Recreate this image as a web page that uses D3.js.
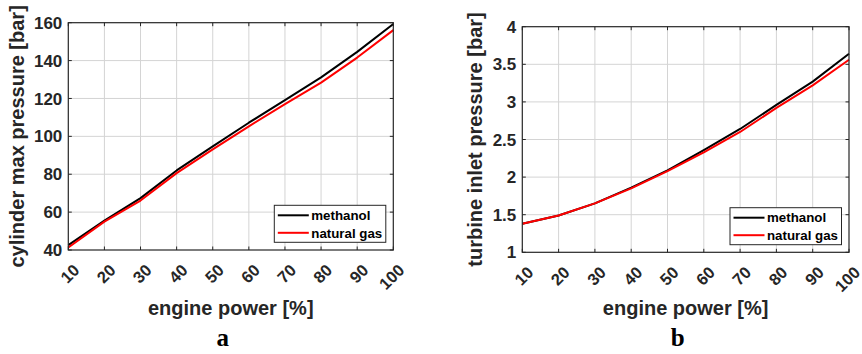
<!DOCTYPE html>
<html>
<head>
<meta charset="utf-8">
<script src="https://cdn.jsdelivr.net/npm/d3@7"></script>
<style>
  body { margin: 0; background: #fff; }
  svg { display: block; }
  text { font-family: "Liberation Sans", Arial, sans-serif; font-weight: bold; }
  text.letter { font-family: "Liberation Serif", "Times New Roman", serif; }
</style>
</head>
<body>
<svg id="chart" width="862" height="354"></svg>
<script>
// engine load points [%]
const enginePower = [10, 20, 30, 40, 50, 60, 70, 80, 90, 100];

// panel a: cylinder max pressure [bar]
const cylMethanol   = [42.6, 55.5, 67.4, 82.0, 94.7, 107.2, 119.1, 131.1, 144.6, 159.3];
const cylNaturalGas = [41.3, 55.0, 66.1, 80.6, 93.1, 105.3, 117.0, 128.4, 141.6, 156.1];
const cylTicks = [40, 60, 80, 100, 120, 140, 160];

// panel b: turbine inlet pressure [bar]
const tipMethanol   = [1.38, 1.49, 1.65, 1.86, 2.09, 2.36, 2.64, 2.96, 3.27, 3.64];
const tipNaturalGas = [1.38, 1.49, 1.65, 1.85, 2.08, 2.33, 2.60, 2.92, 3.22, 3.56];
const tipTicks = [1, 1.5, 2, 2.5, 3, 3.5, 4];

const seriesNames = ["methanol", "natural gas"];
const seriesColors = ["#000000", "#ff0000"];

const svg = d3.select("#chart");
const ink = "#262626";

function drawPanel(opts) {
    const { left, top, right, bottom } = opts;
    const x = d3.scaleLinear().domain([10, 100]).range([left, right]);
    const y = d3.scaleLinear().domain(opts.yDomain).range([bottom, top]);
    const g = svg.append("g");

    // grid
    g.append("g").selectAll("line.vg")
        .data(enginePower.slice(1, -1))
        .enter().append("line")
        .attr("x1", d => x(d)).attr("x2", d => x(d))
        .attr("y1", top).attr("y2", bottom)
        .attr("stroke", "#d4d4d4").attr("stroke-width", 1);
    g.append("g").selectAll("line.hg")
        .data(opts.yTicks.slice(1, -1))
        .enter().append("line")
        .attr("x1", left).attr("x2", right)
        .attr("y1", d => y(d)).attr("y2", d => y(d))
        .attr("stroke", "#d4d4d4").attr("stroke-width", 1);

    // tick marks pointing inward on all four sides
    const tl = 3.5;
    const tk = g.append("g").attr("stroke", ink).attr("stroke-width", 1);
    enginePower.forEach(v => {
        tk.append("line").attr("x1", x(v)).attr("x2", x(v)).attr("y1", bottom).attr("y2", bottom - tl);
        tk.append("line").attr("x1", x(v)).attr("x2", x(v)).attr("y1", top).attr("y2", top + tl);
    });
    opts.yTicks.forEach(v => {
        tk.append("line").attr("x1", left).attr("x2", left + tl).attr("y1", y(v)).attr("y2", y(v));
        tk.append("line").attr("x1", right).attr("x2", right - tl).attr("y1", y(v)).attr("y2", y(v));
    });

    // curves
    const line = d3.line().x((d, i) => x(enginePower[i])).y(d => y(d));
    opts.series.forEach((s, i) => {
        g.append("path")
            .datum(s)
            .attr("d", line)
            .attr("fill", "none")
            .attr("stroke", seriesColors[i])
            .attr("stroke-width", 2)
            .attr("stroke-linejoin", "round");
    });

    // box
    g.append("rect")
        .attr("x", left).attr("y", top)
        .attr("width", right - left).attr("height", bottom - top)
        .attr("fill", "none").attr("stroke", ink).attr("stroke-width", 1.2);

    // y tick labels
    g.append("g").selectAll("text")
        .data(opts.yTicks)
        .enter().append("text")
        .attr("x", left - 6)
        .attr("y", d => y(d))
        .attr("dy", "0.36em")
        .attr("text-anchor", "end")
        .attr("font-size", 17)
        .attr("fill", ink)
        .text(d => d);

    // x tick labels, rotated
    g.append("g").selectAll("text")
        .data(enginePower)
        .enter().append("text")
        .attr("transform", d => `translate(${x(d) + 8},${bottom + 17}) rotate(-45)`)
        .attr("dy", "0.36em")
        .attr("text-anchor", "end")
        .attr("font-size", 16.5)
        .attr("fill", ink)
        .text(d => d);

    // axis titles
    g.append("text")
        .attr("transform", `translate(${opts.yLabelX},${(top + bottom) / 2}) rotate(-90)`)
        .attr("text-anchor", "middle")
        .attr("dy", "0.26em")
        .attr("font-size", 20)
        .attr("fill", ink)
        .text(opts.yLabel);

    g.append("text")
        .attr("x", (left + right) / 2)
        .attr("y", 315)
        .attr("text-anchor", "middle")
        .attr("font-size", 20)
        .attr("fill", ink)
        .text("engine power [%]");

    // panel letter
    g.append("text")
        .attr("class", "letter")
        .attr("x", (left + right) / 2 - 8)
        .attr("y", 346)
        .attr("text-anchor", "middle")
        .attr("font-size", 25)
        .attr("fill", "#000")
        .text(opts.letter);

    // legend
    const lg = g.append("g").attr("transform", `translate(${right - 119},${opts.legendTop})`);
    lg.append("rect")
        .attr("width", 111.5).attr("height", 37)
        .attr("fill", "#fff").attr("stroke", ink).attr("stroke-width", 1);
    seriesNames.forEach((name, i) => {
        const yy = 10 + i * 17.5;
        lg.append("line")
            .attr("x1", 3.5).attr("x2", 34.5)
            .attr("y1", yy).attr("y2", yy)
            .attr("stroke", seriesColors[i]).attr("stroke-width", 2);
        lg.append("text")
            .attr("x", 37).attr("y", yy)
            .attr("dy", "0.36em")
            .attr("font-size", 13.3)
            .attr("fill", "#000")
            .text(name);
    });
}

drawPanel({
    left: 68.3, top: 22.7, right: 393.3, bottom: 250,
    yDomain: [40, 160], yTicks: cylTicks,
    series: [cylMethanol, cylNaturalGas],
    yLabel: "cylinder max pressure [bar]", yLabelX: 18.3,
    legendTop: 205.3, letter: "a"
});

drawPanel({
    left: 522.3, top: 26.7, right: 849, bottom: 252.3,
    yDomain: [1, 4], yTicks: tipTicks,
    series: [tipMethanol, tipNaturalGas],
    yLabel: "turbine inlet pressure [bar]", yLabelX: 476.7,
    legendTop: 207.7, letter: "b"
});
</script>
</body>
</html>
